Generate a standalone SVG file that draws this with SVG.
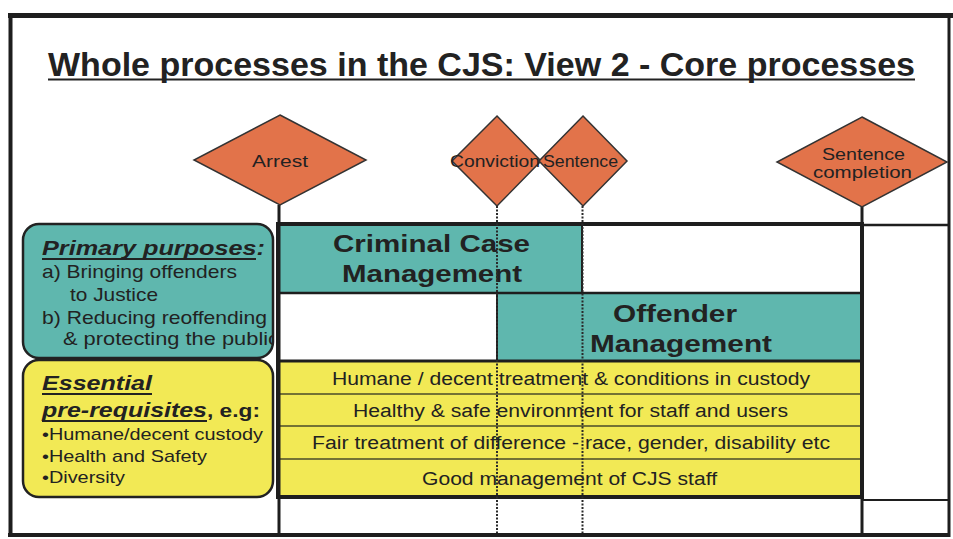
<svg xmlns="http://www.w3.org/2000/svg" width="953" height="539" viewBox="0 0 953 539">
  <defs>
    <style>
      .t { font-family: "Liberation Sans", Arial, sans-serif; fill: #222; }
      .b { font-weight: bold; }
      .bi { font-weight: bold; font-style: italic; }
      .dia { fill: #e2734a; stroke: #333; stroke-width: 1.5; }
      .teal { fill: #5fb7ae; }
      .yel { fill: #f2e955; }
      .ln { stroke: #1e1e1e; fill: none; }
      .dot { stroke: #2a2a2a; stroke-width: 2; stroke-dasharray: 2 1.5; fill: none; }
      .ul { stroke: #222; stroke-width: 2; }
    </style>
    <clipPath id="primaryClip">
      <rect x="23" y="224" width="249" height="134"/>
    </clipPath>
  </defs>

  <rect x="0" y="0" width="953" height="539" fill="#ffffff"/>

  <!-- outer frame -->
  <g id="frame" class="ln">
    <line x1="8" y1="15.5" x2="953" y2="15.5" stroke-width="5"/>
    <line x1="10.5" y1="13" x2="10.5" y2="537" stroke-width="4"/>
    <line x1="8" y1="535" x2="950" y2="535" stroke-width="4"/>
    <line x1="949" y1="13" x2="949" y2="537" stroke-width="3"/>
  </g>

  <!-- title -->
  <g id="title">
    <text class="t b" x="48" y="76" font-size="33" textLength="867" lengthAdjust="spacingAndGlyphs">Whole processes in the CJS: View 2 - Core processes</text>
    <line class="ul" x1="48" y1="79.5" x2="915" y2="79.5"/>
  </g>

  <!-- left column: purposes and pre-requisites -->
  <g id="primary-purposes">
    <rect class="teal" x="23" y="224" width="250" height="134" rx="16" stroke="#222" stroke-width="2.5"/>
    <text class="t bi" x="42" y="255" font-size="20" textLength="223" lengthAdjust="spacingAndGlyphs">Primary purposes:</text>
    <line class="ul" x1="42" y1="259" x2="256" y2="259"/>
    <text class="t" x="42" y="278" font-size="19" textLength="195" lengthAdjust="spacingAndGlyphs">a) Bringing offenders</text>
    <text class="t" x="70" y="301" font-size="19" textLength="88" lengthAdjust="spacingAndGlyphs">to Justice</text>
    <text class="t" x="42" y="324" font-size="19" textLength="225" lengthAdjust="spacingAndGlyphs">b) Reducing reoffending</text>
    <text class="t" x="63" y="345" font-size="19" textLength="216" lengthAdjust="spacingAndGlyphs" clip-path="url(#primaryClip)">&amp; protecting the public</text>
  </g>

  <g id="essential-prerequisites">
    <rect class="yel" x="23" y="360" width="250" height="137" rx="16" stroke="#222" stroke-width="2.5"/>
    <text class="t bi" x="42" y="390" font-size="20" textLength="110" lengthAdjust="spacingAndGlyphs">Essential</text>
    <line class="ul" x1="42" y1="394" x2="152" y2="394"/>
    <text class="t bi" x="42" y="417" font-size="20" textLength="165" lengthAdjust="spacingAndGlyphs">pre-requisites</text>
    <text class="t b" x="207" y="417" font-size="19" textLength="53" lengthAdjust="spacingAndGlyphs">, e.g:</text>
    <line class="ul" x1="42" y1="421" x2="207" y2="421"/>
    <text class="t" x="42" y="440" font-size="17" textLength="221" lengthAdjust="spacingAndGlyphs">•Humane/decent custody</text>
    <text class="t" x="42" y="462" font-size="17" textLength="165" lengthAdjust="spacingAndGlyphs">•Health and Safety</text>
    <text class="t" x="42" y="483" font-size="17" textLength="83" lengthAdjust="spacingAndGlyphs">•Diversity</text>
  </g>

  <!-- process grid fills -->
  <g id="criminal-case-management">
    <rect class="teal" x="280" y="225" width="302" height="68"/>
  </g>
  <g id="offender-management">
    <rect class="teal" x="497" y="293" width="363" height="68"/>
  </g>
  <g id="row-humane">
    <rect class="yel" x="280" y="361" width="580" height="33"/>
  </g>
  <g id="row-health">
    <rect class="yel" x="280" y="394" width="580" height="32"/>
  </g>
  <g id="row-fair">
    <rect class="yel" x="280" y="426" width="580" height="33"/>
  </g>
  <g id="row-staff">
    <rect class="yel" x="280" y="459" width="580" height="38"/>
  </g>

  <!-- grid rules -->
  <g id="grid" class="ln">
    <line x1="278" y1="293" x2="862" y2="293" stroke-width="2.5"/>
    <line x1="278" y1="361" x2="862" y2="361" stroke-width="3"/>
    <line x1="278" y1="394" x2="862" y2="394" stroke-width="1.5" stroke="#4a4a2a"/>
    <line x1="278" y1="426" x2="862" y2="426" stroke-width="1.5" stroke="#4a4a2a"/>
    <line x1="278" y1="459" x2="862" y2="459" stroke-width="1.5" stroke="#4a4a2a"/>
    <line x1="582" y1="225" x2="582" y2="293" stroke-width="2"/>
    <line x1="497" y1="293" x2="497" y2="361" stroke-width="2"/>
    <rect x="278" y="224" width="584" height="273" stroke-width="4"/>
    <line x1="862" y1="225" x2="949" y2="225" stroke-width="2.5"/>
    <line x1="862" y1="500" x2="949" y2="500" stroke-width="2"/>
  </g>

  <!-- grid labels -->
  <g id="grid-labels">
    <text class="t b" x="333" y="252" font-size="24" textLength="197" lengthAdjust="spacingAndGlyphs">Criminal Case</text>
    <text class="t b" x="342" y="282" font-size="24" textLength="180" lengthAdjust="spacingAndGlyphs">Management</text>
    <text class="t b" x="613" y="322" font-size="24" textLength="124" lengthAdjust="spacingAndGlyphs">Offender</text>
    <text class="t b" x="590" y="352" font-size="24" textLength="182" lengthAdjust="spacingAndGlyphs">Management</text>
    <text class="t" x="332" y="385" font-size="18" textLength="478" lengthAdjust="spacingAndGlyphs">Humane / decent treatment &amp; conditions in custody</text>
    <text class="t" x="353" y="417" font-size="18" textLength="435" lengthAdjust="spacingAndGlyphs">Healthy &amp; safe environment for staff and users</text>
    <text class="t" x="312" y="449" font-size="18" textLength="518" lengthAdjust="spacingAndGlyphs">Fair treatment of difference - race, gender, disability etc</text>
    <text class="t" x="422" y="485" font-size="18" textLength="295" lengthAdjust="spacingAndGlyphs">Good management of CJS staff</text>
  </g>

  <!-- milestone lines -->
  <g id="connectors">
    <line class="ln" x1="279" y1="205" x2="279" y2="535" stroke-width="3"/>
    <line class="dot" x1="497" y1="206" x2="497" y2="533"/>
    <line class="dot" x1="582.5" y1="206" x2="582.5" y2="533"/>
    <line class="ln" x1="862" y1="207" x2="862" y2="535" stroke-width="3"/>
  </g>

  <!-- milestones -->
  <g id="arrest">
    <polygon class="dia" points="280,115 366,160 280,205 194,160"/>
    <text class="t" x="252" y="167" font-size="16" textLength="56" lengthAdjust="spacingAndGlyphs">Arrest</text>
  </g>
  <g id="conviction">
    <polygon class="dia" points="497,116 541,161 497,206 452,161"/>
    <text class="t" x="450" y="167" font-size="16" textLength="90" lengthAdjust="spacingAndGlyphs">Conviction</text>
  </g>
  <g id="sentence">
    <polygon class="dia" points="583,116 627,161 583,206 539,161"/>
    <text class="t" x="543" y="167" font-size="16" textLength="75" lengthAdjust="spacingAndGlyphs">Sentence</text>
  </g>
  <g id="sentence-completion">
    <polygon class="dia" points="862,117 947,162 862,207 777,162"/>
    <text class="t" x="822" y="160" font-size="17" textLength="83" lengthAdjust="spacingAndGlyphs">Sentence</text>
    <text class="t" x="813" y="178" font-size="17" textLength="99" lengthAdjust="spacingAndGlyphs">completion</text>
  </g>
</svg>
